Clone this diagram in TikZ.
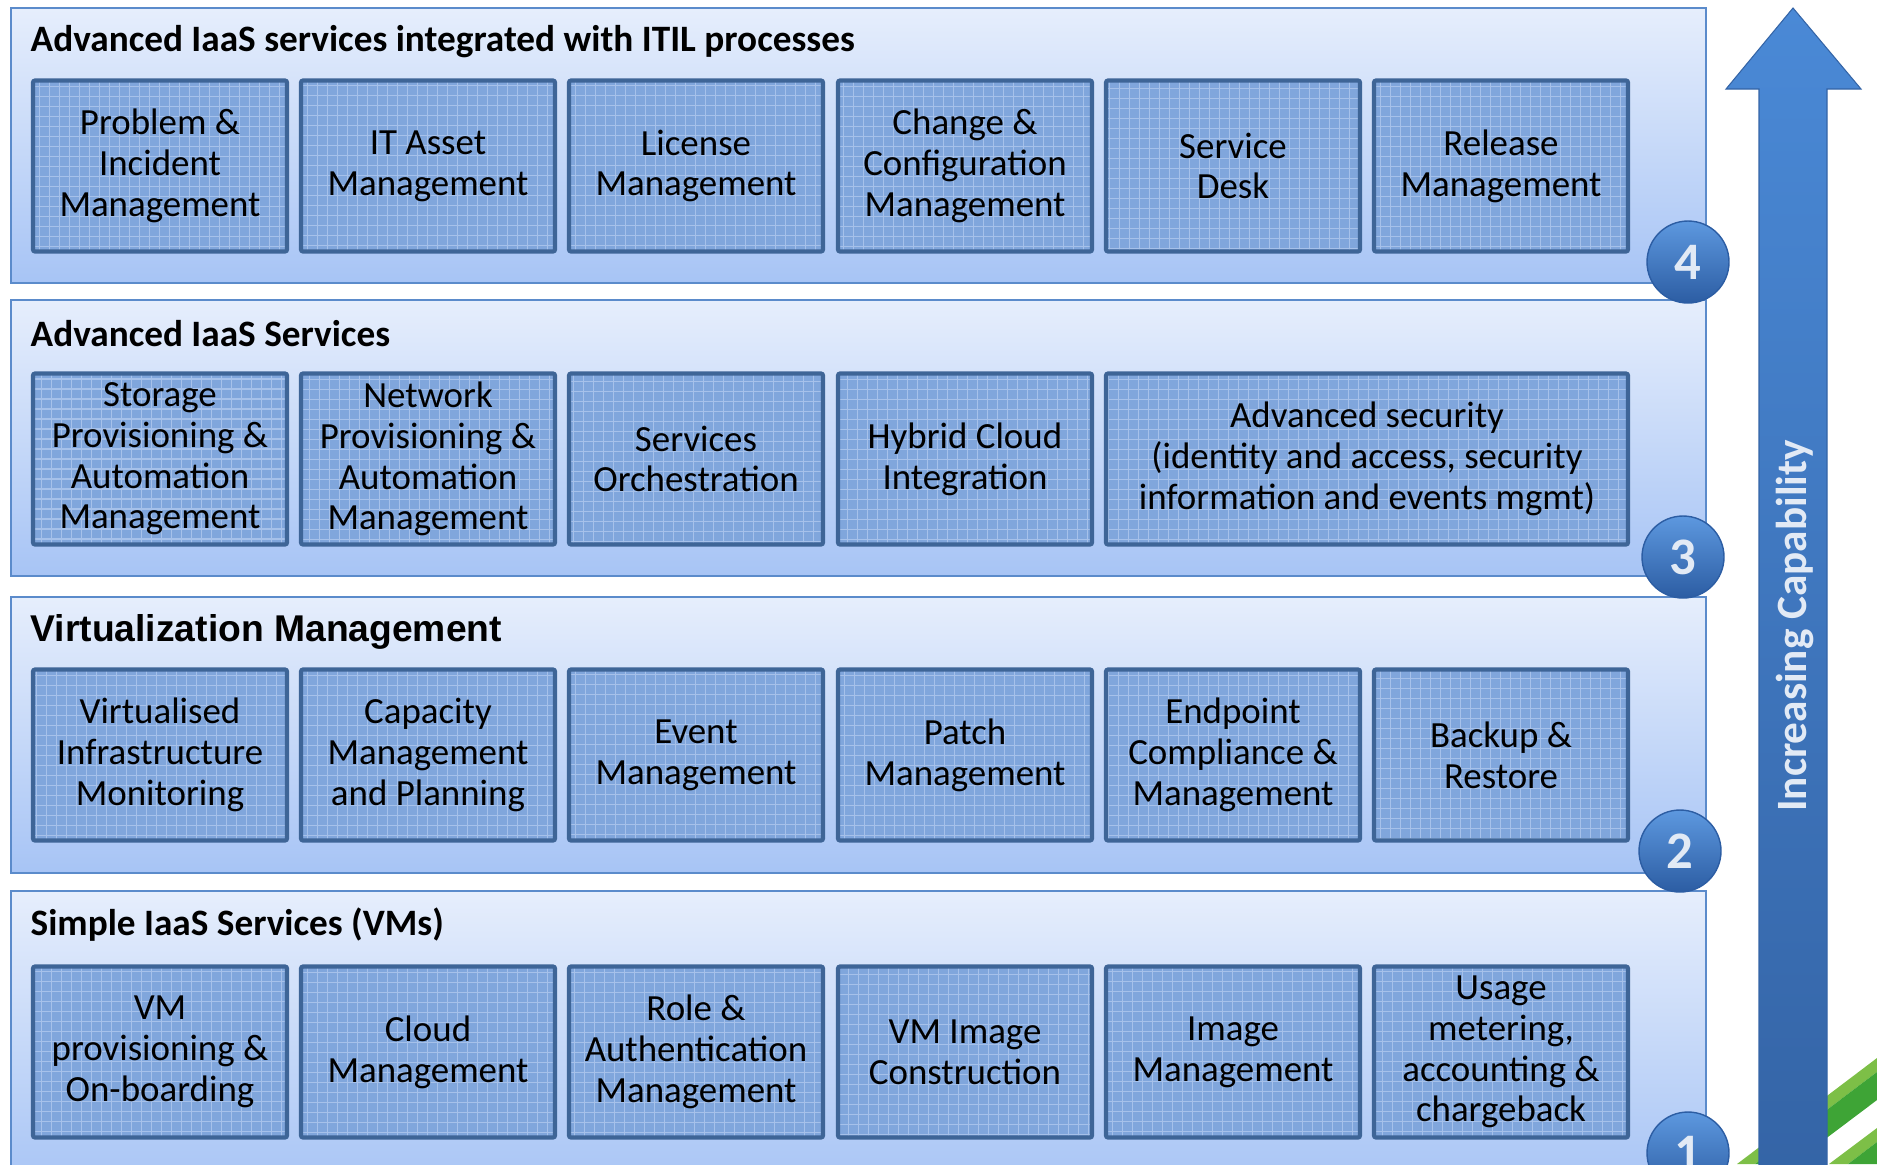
\documentclass[tikz,border=0pt]{standalone}
\usepackage{fontspec}
\setmainfont{Carlito}
\newfontfamily\arialfont{Liberation Sans}
\usepackage{tikz}
\usetikzlibrary{calc}
\usetikzlibrary{positioning}

\definecolor{panelline}{HTML}{5B8BCB}
\definecolor{paneltop}{HTML}{E6EEFC}
\definecolor{panelbot}{HTML}{A7C4F5}
\definecolor{boxfill}{HTML}{80A6DC}
\definecolor{boxgrid}{HTML}{A6C1EA}
\definecolor{boxline}{HTML}{3E6597}
\definecolor{balltop}{HTML}{5D98DF}
\definecolor{ballbot}{HTML}{2C5DA3}
\definecolor{numtext}{HTML}{E2EAF5}
\definecolor{arrowtop}{HTML}{4A89D6}
\definecolor{arrowbot}{HTML}{3464A6}
\definecolor{lightgreen}{HTML}{7DBF47}
\definecolor{darkgreen}{HTML}{3EA436}

\tikzset{
	layer/.style={draw=panelline, line width=0.6pt, top color=paneltop, bottom color=panelbot},
	service/.style={draw=boxline, line width=1.2pt, fill=boxfill, rounded corners=0.6pt,
		minimum width=25.4mm, minimum height=17.1mm, align=center, inner sep=0pt,
		font=\fontsize{10.5}{11.6}\selectfont,
		path picture={\draw[boxgrid, line width=0.3pt, step=1mm] (path picture bounding box.south west) grid (path picture bounding box.north east);}},
	widebox/.style={service, minimum width=52.2mm},
	heading/.style={anchor=west, inner sep=0pt, font=\fontsize{10.6}{12}\selectfont\bfseries},
	level/.style={circle, draw=ballbot, line width=0.4pt, top color=balltop, bottom color=ballbot,
		minimum size=8.2mm, inner sep=0pt, text=numtext, font=\fontsize{15}{15}\selectfont\bfseries}
}

\begin{document}
\begin{tikzpicture}[x=0.1mm, y=-0.1mm]
			\useasboundingbox (0, 0) rectangle (1877, 1164);
			\clip (0, 0) rectangle (1877, 1164);

			% stripes in the corner
			\fill[lightgreen] (1737, 1164) -- (1877, 1058) -- (1877, 1072) -- (1755, 1164) -- cycle;
			\fill[darkgreen] (1755, 1164) -- (1877, 1072) -- (1877, 1100) -- (1792, 1164) -- cycle;
			\fill[lightgreen] (1829, 1164) -- (1877, 1128) -- (1877, 1142) -- (1848, 1164) -- cycle;
			\fill[darkgreen] (1848, 1164) -- (1877, 1142) -- (1877, 1164) -- cycle;

			% capability arrow
			\shade[top color=arrowtop, bottom color=arrowbot, draw=arrowbot, line width=0.3pt]
				(1793, 8) -- (1861, 89) -- (1827, 89) -- (1827, 1180) -- (1759, 1180) -- (1759, 89) -- (1726, 89) -- cycle;
			\node[rotate=90, text=numtext, font=\fontsize{12.3}{13}\selectfont\bfseries] (cap) at (1795, 626) {Increasing Capability};

			% layers
			\draw[layer] (11, 8) rectangle (1706, 283);
			\draw[layer] (11, 300) rectangle (1706, 576);
			\draw[layer] (11, 597) rectangle (1706, 873);
			\draw[layer] (11, 891) rectangle (1706, 1190);

			\node[heading] (t4) at (30, 42) {Advanced IaaS services integrated with ITIL processes};
			\node[heading] (t3) at (30, 334) {Advanced IaaS Services};
			\node[heading, font=\fontsize{10.6}{12}\selectfont\arialfont\bfseries] (t2) at (30, 632) {Virtualization Management};
			\node[heading] (t1) at (30, 925) {Simple IaaS Services (VMs)};

			% level 4
			\node[service] (pim) at (160, 166) {Problem \&\\Incident\\Management};
			\node[service] (itam) at (428, 166) {IT Asset\\Management};
			\node[service] (lic) at (696, 166) {License\\Management};
			\node[service] (ccm) at (965, 166) {Change \&\\Configuration\\Management};
			\node[service] (desk) at (1233, 166) {Service\\Desk};
			\node[service] (rel) at (1501, 166) {Release\\Management};

			% level 3
			\node[service] (spam) at (160, 459) {Storage\\Provisioning \&\\Automation\\Management};
			\node[service] (npam) at (428, 459) {Network\\Provisioning \&\\Automation\\Management};
			\node[service] (orch) at (696, 459) {Services\\Orchestration};
			\node[service] (hci) at (965, 459) {Hybrid Cloud\\Integration};
			\node[widebox] (sec) at (1367, 459) {Advanced security\\(identity and access, security\\information and events mgmt)};

			% level 2
			\node[service] (vim) at (160, 755) {Virtualised\\Infrastructure\\Monitoring};
			\node[service] (cap) at (428, 755) {Capacity\\Management\\and Planning};
			\node[service] (evt) at (696, 755) {Event\\Management};
			\node[service] (pat) at (965, 755) {Patch\\Management};
			\node[service] (ecm) at (1233, 755) {Endpoint\\Compliance \&\\Management};
			\node[service] (bak) at (1501, 755) {Backup \&\\Restore};

			% level 1
			\node[service] (vmp) at (160, 1052) {VM\\provisioning \&\\On-boarding};
			\node[service] (cld) at (428, 1052) {Cloud\\Management};
			\node[service] (ram) at (696, 1052) {Role \&\\Authentication\\Management};
			\node[service] (vmi) at (965, 1052) {VM Image\\Construction};
			\node[service] (img) at (1233, 1052) {Image\\Management};
			\node[service] (use) at (1501, 1052) {Usage\\metering,\\accounting \&\\chargeback};

			% level numbers
			\node[level] (n4) at (1688, 262) {4};
			\node[level] (n3) at (1683, 557) {3};
			\node[level] (n2) at (1680, 851) {2};
			\node[level] (n1) at (1688, 1153) {1};
\end{tikzpicture}
\end{document}
